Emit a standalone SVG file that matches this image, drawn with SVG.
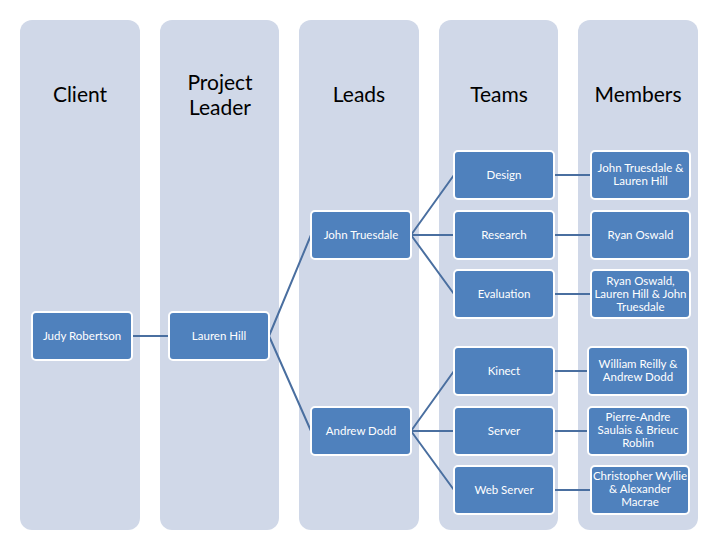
<svg xmlns="http://www.w3.org/2000/svg" width="718" height="550" viewBox="0 0 718 550">
<style>
.col{fill:#D0D8E8}
.hdr{font-family:Lato,"Open Sans",sans-serif;font-size:21px;fill:#000;text-anchor:middle}
.nd rect{fill:#4F81BD;stroke:#fff;stroke-width:2}
.nd text{font-family:Lato,"Open Sans",sans-serif;font-size:11.5px;fill:#fff;text-anchor:middle}
.cn{stroke:#4A6FA0;stroke-width:2;fill:none}
</style>
<rect width="718" height="550" fill="#fff"/>
<g id="columns">
<g id="col-client"><rect class="col" x="20" y="20" width="120" height="510" rx="12"/><text class="hdr" x="80" y="102">Client</text></g>
<g id="col-leader"><rect class="col" x="160" y="20" width="119" height="510" rx="12"/><text class="hdr" x="220" y="90">Project</text><text class="hdr" x="220" y="115">Leader</text></g>
<g id="col-leads"><rect class="col" x="299" y="20" width="120" height="510" rx="12"/><text class="hdr" x="359" y="102">Leads</text></g>
<g id="col-teams"><rect class="col" x="439" y="20" width="119" height="510" rx="12"/><text class="hdr" x="499" y="102">Teams</text></g>
<g id="col-members"><rect class="col" x="578" y="20" width="120" height="510" rx="12"/><text class="hdr" x="638" y="102">Members</text></g>
</g>
<g id="connectors">
<path class="cn" d="M132 336H168"/>
<path class="cn" d="M269 336L311 235M269 336L311 431"/>
<path class="cn" d="M411 235L454 175M411 235H454M411 235L454 294"/>
<path class="cn" d="M411 431L454 371M411 431H454M411 431L454 490"/>
<path class="cn" d="M554 175H591M554 235H591M554 294H591"/>
<path class="cn" d="M554 371H588M554 431H588M554 490H591"/>
</g>
<g id="n-judy" class="nd"><rect x="32" y="312" width="100" height="48" rx="4"/><text x="82" y="340">Judy Robertson</text></g>
<g id="n-lauren" class="nd"><rect x="169" y="312" width="100" height="48" rx="4"/><text x="219" y="340">Lauren Hill</text></g>
<g id="n-john" class="nd"><rect x="311" y="211" width="100" height="48" rx="4"/><text x="361" y="239">John Truesdale</text></g>
<g id="n-andrew" class="nd"><rect x="311" y="407" width="100" height="48" rx="4"/><text x="361" y="435">Andrew Dodd</text></g>
<g id="n-design" class="nd"><rect x="454" y="151" width="100" height="48" rx="4"/><text x="504" y="179">Design</text></g>
<g id="n-research" class="nd"><rect x="454" y="211" width="100" height="48" rx="4"/><text x="504" y="239">Research</text></g>
<g id="n-evaluation" class="nd"><rect x="454" y="270" width="100" height="48" rx="4"/><text x="504" y="298">Evaluation</text></g>
<g id="n-kinect" class="nd"><rect x="454" y="347" width="100" height="48" rx="4"/><text x="504" y="375">Kinect</text></g>
<g id="n-server" class="nd"><rect x="454" y="407" width="100" height="48" rx="4"/><text x="504" y="435">Server</text></g>
<g id="n-webserver" class="nd"><rect x="454" y="466" width="100" height="48" rx="4"/><text x="504" y="494">Web Server</text></g>
<g id="m-design" class="nd"><rect x="591" y="151" width="99" height="48" rx="4"/><text x="640.5" y="172">John Truesdale &amp;</text><text x="640.5" y="185">Lauren Hill</text></g>
<g id="m-research" class="nd"><rect x="591" y="211" width="99" height="48" rx="4"/><text x="640.5" y="239">Ryan Oswald</text></g>
<g id="m-evaluation" class="nd"><rect x="591" y="270" width="99" height="48" rx="4"/><text x="640.5" y="285">Ryan Oswald,</text><text x="640.5" y="298">Lauren Hill &amp; John</text><text x="640.5" y="311">Truesdale</text></g>
<g id="m-kinect" class="nd"><rect x="588" y="347" width="100" height="48" rx="4"/><text x="638" y="368">William Reilly &amp;</text><text x="638" y="381">Andrew Dodd</text></g>
<g id="m-server" class="nd"><rect x="588" y="407" width="100" height="48" rx="4"/><text x="638" y="421">Pierre-Andre</text><text x="638" y="434">Saulais &amp; Brieuc</text><text x="638" y="447">Roblin</text></g>
<g id="m-webserver" class="nd"><rect x="591" y="466" width="98" height="48" rx="4"/><text x="640" y="480">Christopher Wyllie</text><text x="640" y="493">&amp; Alexander</text><text x="640" y="506">Macrae</text></g>
</svg>
